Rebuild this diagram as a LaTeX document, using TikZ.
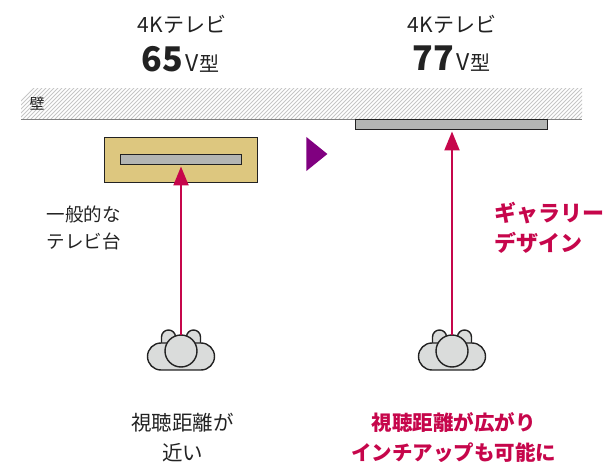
\documentclass[tikz,border=0pt]{standalone}
\usepackage{fontspec}
\setmainfont{Noto Sans CJK JP}
\usetikzlibrary{arrows.meta,shapes.geometric}
\definecolor{crimson}{HTML}{C6064B}
\definecolor{arrowpurple}{HTML}{800080}
\definecolor{standgold}{HTML}{DDC77F}
\definecolor{panelgray}{HTML}{B3B5B3}
\definecolor{viewergray}{HTML}{DADCDB}
\definecolor{labelblack}{HTML}{222222}
\begin{document}
\begin{tikzpicture}[
    x=1pt, y=-1pt,
    every node/.style={inner sep=0pt, outer sep=0pt, text=labelblack},
    panel/.style={draw=labelblack, line width=1.6pt, fill=panelgray, minimum height=#1},
    viewerpart/.style={draw=labelblack, line width=1.4pt, fill=viewergray},
    sight/.style={draw=crimson, line width=2.2pt, -{Triangle[length=19pt,width=15pt]}, shorten >=2pt},
    heading/.style={font=\fontsize{21}{21}\selectfont},
    inchtype/.style={font=\fontsize{23}{23}\selectfont},
    caption/.style={font=\fontsize{18.5}{27}\selectfont, align=center},
    redcaption/.style={font=\fontsize{20.5}{30}\selectfont\bfseries, align=center, text=crimson}
  ]
    \useasboundingbox (0,0) rectangle (603,462);
    % wall
    \begin{scope}
      \clip (21,89) rectangle (582,119);
      \foreach \hx in {0,4,...,640} {
        \draw[gray!45, line width=0.8pt] (\hx,122) -- ++(36,-36);
      }
    \end{scope}
    \coordinate (wallL) at (21,119.5);
    \coordinate (wallR) at (582,119.5);
    \draw[gray, line width=1.8pt] (wallL) -- (wallR);
    \node[font=\fontsize{15}{15}\selectfont] (wall) at (37,104) {壁};
    % headings
    \node[heading] (sizeA) at (182,24) {4Kテレビ};
    \node[inchtype] (typeA) at (180.5,59) {{\fontsize{34}{34}\selectfont\bfseries 65}\kern2ptV\kern1pt{\fontsize{20}{20}\selectfont 型}};
    \node[heading] (sizeB) at (452,24) {4Kテレビ};
    \node[inchtype] (typeB) at (451.5,59) {{\fontsize{34}{34}\selectfont\bfseries 77}\kern2ptV\kern1pt{\fontsize{20}{20}\selectfont 型}};
    % stand and panels
    \node[draw=labelblack, line width=1.6pt, fill=standgold, minimum width=153pt, minimum height=45pt] (stand) at (181,160) {};
    \node[panel=10pt, minimum width=121pt] (tvA) at (181,159.5) {};
    \node[panel=10pt, minimum width=192pt] (tvB) at (451.5,124.5) {};
    \node[isosceles triangle, isosceles triangle apex angle=78, fill=arrowpurple, minimum height=21pt, minimum width=34pt] (next) at (314.5,154) {};
    % viewers
    \foreach \vname/\vx in {viewerA/181, viewerB/452} {
      \node[viewerpart, rounded corners=7pt, minimum width=14pt, minimum height=24pt] (\vname earL) at (\vx-12.5,342) {};
      \node[viewerpart, rounded corners=7pt, minimum width=14pt, minimum height=24pt] (\vname earR) at (\vx+12.5,342) {};
      \node[viewerpart, rounded corners=13.5pt, minimum width=67pt, minimum height=27pt] (\vname) at (\vx,356.5) {};
      \node[viewerpart, circle, minimum size=32pt] (\vname head) at (\vx,351) {};
    }
    \draw[sight] (viewerAhead.north) -- (viewerAhead.north |- tvA.south);
    \draw[sight] (viewerBhead.north) -- (viewerBhead.north |- tvB.south);
    % labels
    \node[caption] (standlabel) at (83.5,228) {一般的な\\テレビ台};
    \node[redcaption, font=\fontsize{22}{30}\selectfont\bfseries, align=left, anchor=west] (gallery) at (494,228) {ギャラリー\\デザイン};
    \node[caption, font=\fontsize{20.5}{30}\selectfont] (nearlabel) at (182.5,438) {視聴距離が\\近い};
    \node[redcaption] (farlabel) at (453.5,438) {視聴距離が広がり\\インチアップも可能に};
\end{tikzpicture}
\end{document}
